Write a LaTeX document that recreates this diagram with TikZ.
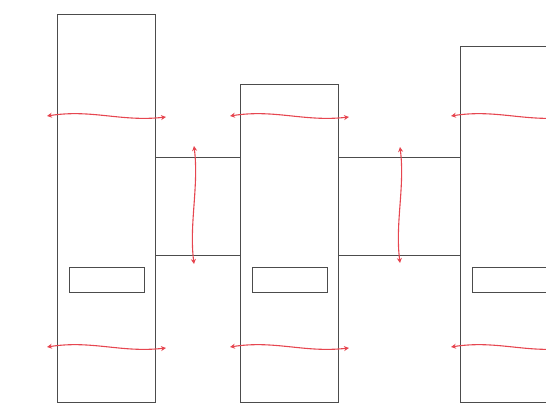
\documentclass[tikz,border=0pt]{standalone}
\usetikzlibrary{positioning,arrows.meta}
\definecolor{wavered}{RGB}{230,70,80}
\begin{document}
\begin{tikzpicture}[
  x=1pt, y=-1pt,
  col/.style={draw=black!70, anchor=north west, minimum width=98pt, inner sep=0pt, line width=1pt},
  bridge/.style={draw=black!70, anchor=north west, minimum height=98pt, inner sep=0pt, line width=1pt},
  slot/.style={draw=black!70, minimum width=75pt, minimum height=25pt, inner sep=0pt, line width=1pt},
  ar/.style={{Stealth[length=5pt,width=5pt]}-{Stealth[length=5pt,width=5pt]}, wavered, line width=1.1pt}
]
\clip (0,0) rectangle (546,404);
\node[col, minimum height=388pt] (c1) at (57,14) {};
\node[col, minimum height=318pt] (c2) at (240,84) {};
\node[col, minimum height=356pt] (c3) at (460,46) {};
\node[bridge, minimum width=85pt] (b1) at (155,157) {};
\node[bridge, minimum width=122pt] (b2) at (338,157) {};
\node[slot] (s1) at (c1.center |- 0,279.5) {};
\node[slot] (s2) at (c2.center |- 0,279.5) {};
\node[slot] (s3) at (c3.center |- 0,279.5) {};
\coordinate (t1l) at (47,116);
\coordinate (t1r) at (166,117);
\coordinate (t2l) at (230,116);
\coordinate (t2r) at (349,117);
\coordinate (t3l) at (451,116);
\coordinate (t3r) at (570,117);
\coordinate (u1l) at (47,347);
\coordinate (u1r) at (166,348);
\coordinate (u2l) at (230,347);
\coordinate (u2r) at (349,348);
\coordinate (u3l) at (451,347);
\coordinate (u3r) at (570,348);
\coordinate (v1t) at (194,146);
\coordinate (v1b) at (194,264);
\coordinate (v2t) at (400,147);
\coordinate (v2b) at (400,263);
\draw[ar] (t1l) .. controls +(45,-7) and +(-45,5) .. (t1r);
\draw[ar] (t2l) .. controls +(45,-7) and +(-45,5) .. (t2r);
\draw[ar] (t3l) .. controls +(45,-7) and +(-45,5) .. (t3r);
\draw[ar] (u1l) .. controls +(45,-7) and +(-45,5) .. (u1r);
\draw[ar] (u2l) .. controls +(45,-7) and +(-45,5) .. (u2r);
\draw[ar] (u3l) .. controls +(45,-7) and +(-45,5) .. (u3r);
\draw[ar] (v1t) .. controls +(5,40) and +(-5,-40) .. (v1b);
\draw[ar] (v2t) .. controls +(5,40) and +(-5,-40) .. (v2b);
\end{tikzpicture}
\end{document}
